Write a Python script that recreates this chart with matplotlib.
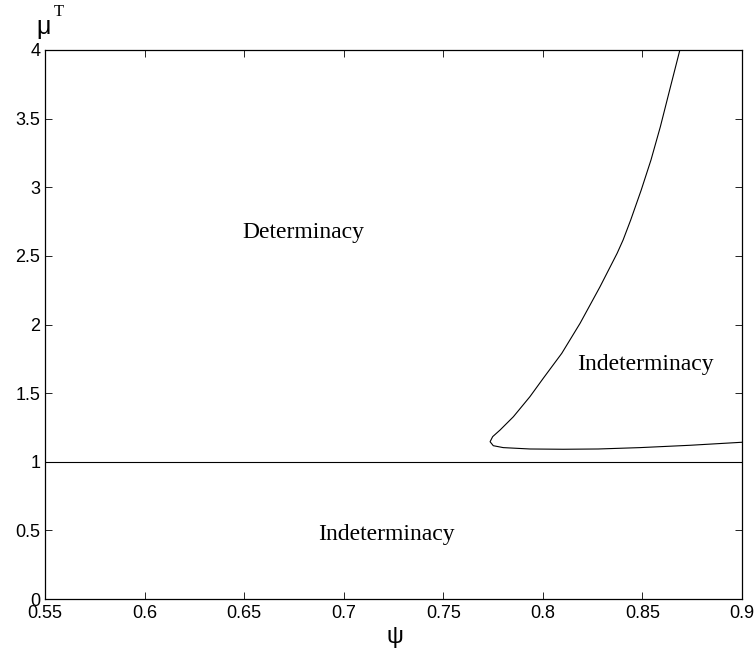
import matplotlib

matplotlib.use("Agg")
import matplotlib.pyplot as plt

# boundary of the upper indeterminacy region
psi_curve = [0.8688, 0.8641, 0.8590, 0.8543, 0.8494, 0.8441, 0.8403, 0.8373,
             0.8287, 0.8187, 0.8095, 0.8002, 0.7935, 0.7852, 0.7785, 0.7748,
             0.7735, 0.7751, 0.7801, 0.7935, 0.8103, 0.8278, 0.8488, 0.8739,
             0.9000]
mu_curve = [4.000, 3.733, 3.441, 3.199, 2.980, 2.761, 2.616, 2.519,
            2.275, 2.009, 1.790, 1.608, 1.474, 1.328, 1.231, 1.183,
            1.146, 1.117, 1.103, 1.093, 1.091, 1.093, 1.103, 1.120,
            1.142]

psi_line = [0.55, 0.90]
mu_line = [1.0, 1.0]

x_ticks = [0.55, 0.6, 0.65, 0.7, 0.75, 0.8, 0.85, 0.9]
x_labels = ["0.55", "0.6", "0.65", "0.7", "0.75", "0.8", "0.85", "0.9"]
y_ticks = [0, 0.5, 1, 1.5, 2, 2.5, 3, 3.5, 4]
y_labels = ["0", "0.5", "1", "1.5", "2", "2.5", "3", "3.5", "4"]

regions = [("Determinacy", 0.6795, 2.67), ("Indeterminacy", 0.8515, 1.71),
           ("Indeterminacy", 0.7215, 0.47)]

SANS = ["Liberation Sans", "DejaVu Sans"]
SERIF = ["Liberation Serif", "DejaVu Serif"]

fig = plt.figure(figsize=(7.56, 6.58), dpi=100)
ax = fig.add_axes([45 / 756, 1 - 599 / 658, 697 / 756, 549 / 658])

ax.plot(psi_curve, mu_curve, color="black", linewidth=0.8)
ax.plot(psi_line, mu_line, color="black", linewidth=0.8)

ax.set_xlim(0.55, 0.9)
ax.set_ylim(0, 4)
ax.set_xticks(x_ticks)
ax.set_xticklabels(x_labels, family=SANS, fontsize=13)
ax.set_yticks(y_ticks)
ax.set_yticklabels(y_labels, family=SANS, fontsize=13)
ax.tick_params(direction="in", top=True, right=True, length=5, width=0.6)
ax.tick_params(axis="x", pad=4)
ax.tick_params(axis="y", pad=3.5)
for s in ax.spines.values():
    s.set_linewidth(0.9)

for txt, x, y in regions:
    ax.text(x, y, txt, ha="center", va="center", family=SERIF, fontsize=17)

fig.text(394.5 / 756, 1 - 637 / 658, "ψ", ha="center", va="center",
         family=SANS, fontsize=17)
fig.text(44 / 756, 1 - 27 / 658, "μ", ha="center", va="center",
         family=SANS, fontsize=18)
fig.text(59 / 756, 1 - 12.5 / 658, "T", ha="center", va="center",
         family=SERIF, fontsize=12)

fig.savefig("out.png", dpi=100, facecolor="white")
